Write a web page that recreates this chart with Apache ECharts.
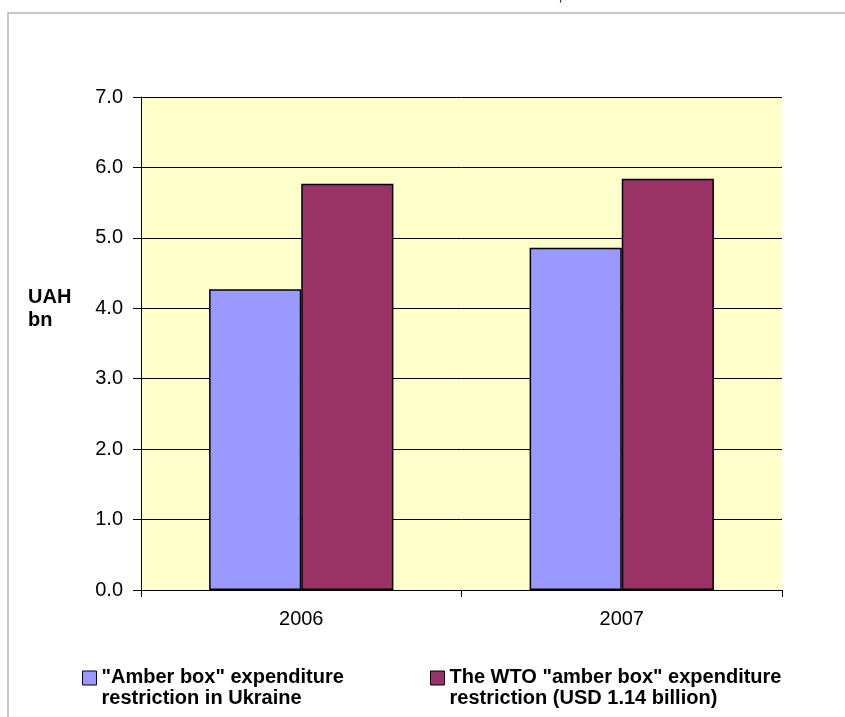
<!DOCTYPE html>
<html><head><meta charset="utf-8">
<script src="https://cdn.jsdelivr.net/npm/echarts@6/dist/echarts.min.js"></script>
<style>html,body{margin:0;padding:0;background:#fff}#c{width:845px;height:717px}</style>
</head><body><div id="c"></div>
<script>
const categories = ['2006', '2007'];
const ukraineValues = [4.27, 4.86];
const wtoValues = [5.77, 5.84];
const seriesNames = ['"Amber box" expenditure\nrestriction in Ukraine', 'The WTO "amber box" expenditure\nrestriction (USD 1.14 billion)'];
const yTicks = { min: 0, max: 7, interval: 1 };

const chart = echarts.init(document.getElementById('c'), null, { renderer: 'canvas' });
const font = 'Arial, "Liberation Sans", sans-serif';
const legendIcon = 'path://M0,0 H10 V10 H0 Z M0,24.3 L0.001,24.3';
const legendText = { fontFamily: font, fontWeight: 'bold', fontSize: 20, color: '#000', lineHeight: 21 };
chart.setOption({
  animation: false,
  backgroundColor: '#ffffff',
  graphic: [
    { type: 'rect', shape: { x: 8, y: 13, width: 900, height: 800 }, style: { fill: 'none', stroke: '#c8c8c8', lineWidth: 2 }, z: -1 },
    { type: 'text', left: 558, top: -14, style: { text: ',', fontFamily: font, fontSize: 18, fill: '#000' } }
  ],
  grid: { left: 141, right: 63, top: 97, bottom: 127, show: true, backgroundColor: '#FFFFCC', borderWidth: 0 },
  legend: [
    { data: [seriesNames[0]], left: 77, top: 662, itemWidth: 14, itemHeight: 34, icon: legendIcon, itemGap: 0,
      itemStyle: { borderColor: '#000', borderWidth: 1 }, textStyle: legendText },
    { data: [seriesNames[1]], left: 425, top: 662, itemWidth: 14, itemHeight: 34, icon: legendIcon, itemGap: 0,
      itemStyle: { borderColor: '#000', borderWidth: 1 }, textStyle: legendText }
  ],
  xAxis: {
    type: 'category', data: categories,
    axisLine: { lineStyle: { color: '#000', width: 1 } },
    axisTick: { show: true, length: 7, lineStyle: { color: '#000' } },
    axisLabel: { fontFamily: font, fontSize: 20, color: '#000', margin: 19 }
  },
  yAxis: {
    type: 'value', min: yTicks.min, max: yTicks.max, interval: yTicks.interval,
    name: 'UAH\nbn\n\n\n', nameLocation: 'middle', nameRotate: 0, nameGap: 113,
    nameTextStyle: { fontFamily: font, fontWeight: 'bold', fontSize: 20, color: '#000', lineHeight: 23, align: 'left', verticalAlign: 'middle' },
    axisLine: { show: true, lineStyle: { color: '#000', width: 1 } },
    axisTick: { show: true, length: 8, inside: false, lineStyle: { color: '#000' } },
    axisLabel: { fontFamily: font, fontSize: 20, color: '#000', margin: 18, formatter: v => v.toFixed(1) },
    splitLine: { show: true, lineStyle: { color: '#000', width: 1 } }
  },
  series: [
    { name: seriesNames[0], type: 'bar', data: ukraineValues, barGap: '0%', barCategoryGap: '42.5%',
      itemStyle: { color: '#9999FF', borderColor: '#000', borderWidth: 1.5 } },
    { name: seriesNames[1], type: 'bar', data: wtoValues,
      itemStyle: { color: '#993366', borderColor: '#000', borderWidth: 1.5 } }
  ]
});
</script></body></html>
